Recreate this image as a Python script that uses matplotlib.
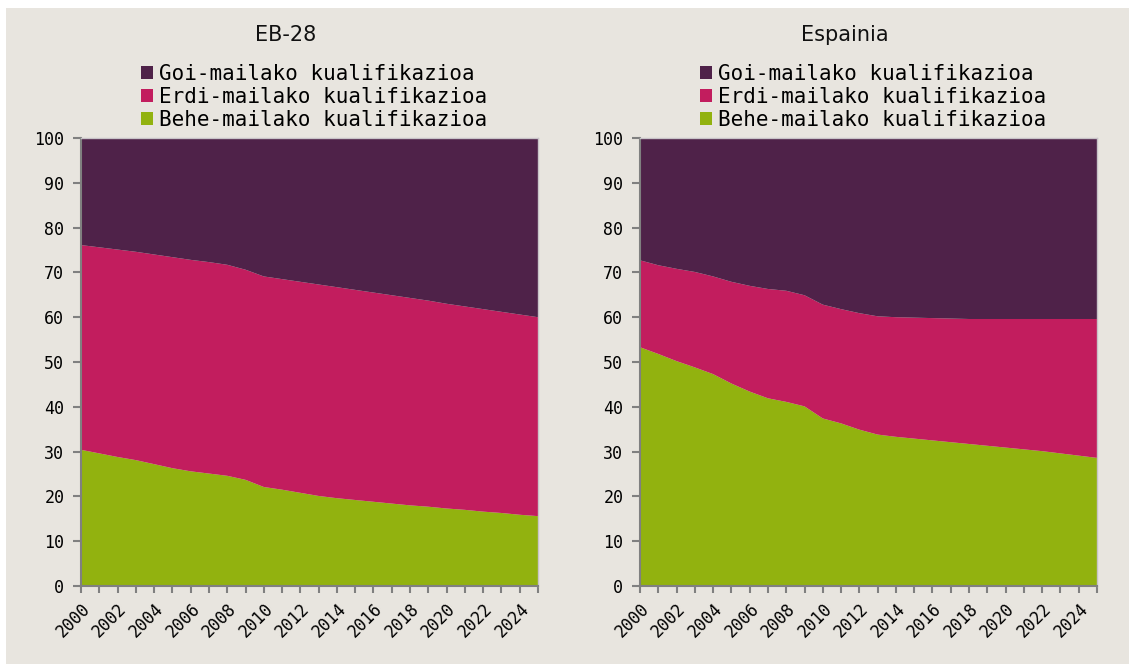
# Population by qualification level, EU-28 vs Spain (stacked area shares)

import numpy as np
import matplotlib.pyplot as plt
from matplotlib.patches import Rectangle

years = list(range(2000, 2026))

labels = ["Behe-mailako kualifikazioa", "Erdi-mailako kualifikazioa", "Goi-mailako kualifikazioa"]
colors = ["#92B20F", "#C21D5E", "#4F2249"]

# EB-28
eb_behe = [30.4, 29.6, 28.8, 28.1, 27.2, 26.3, 25.6, 25.1, 24.6, 23.7, 22.1, 21.5, 20.8,
           20.1, 19.6, 19.2, 18.8, 18.4, 18.0, 17.7, 17.3, 17.0, 16.6, 16.3, 15.9, 15.6]
eb_erdi = [45.7, 46.0, 46.3, 46.5, 46.8, 47.1, 47.2, 47.2, 47.1, 46.9, 47.0, 47.0, 47.1,
           47.2, 47.1, 46.9, 46.7, 46.5, 46.3, 46.0, 45.7, 45.4, 45.2, 44.9, 44.7, 44.4]

# Espainia
es_behe = [53.3, 51.8, 50.2, 48.8, 47.3, 45.2, 43.4, 41.9, 41.1, 40.1, 37.4, 36.3, 34.9,
           33.8, 33.3, 32.9, 32.5, 32.1, 31.7, 31.3, 30.9, 30.5, 30.1, 29.6, 29.1, 28.6]
es_erdi = [19.4, 19.8, 20.6, 21.3, 21.8, 22.7, 23.6, 24.4, 24.8, 24.8, 25.4, 25.5, 26.0,
           26.4, 26.7, 27.0, 27.3, 27.6, 27.9, 28.3, 28.7, 29.1, 29.5, 30.0, 30.5, 31.0]

panels = [("EB-28", eb_behe, eb_erdi), ("Espainia", es_behe, es_erdi)]

bg = "#E8E5DF"
mono = "DejaVu Sans Mono"

fig = plt.figure(figsize=(11.29, 6.64), dpi=100, facecolor="white")
fig.patches.append(Rectangle((6 / 1129, 0), 1, 1 - 8 / 664, transform=fig.transFigure,
                             facecolor=bg, edgecolor="none", zorder=-10))

lefts = [81 / 1129, 640 / 1129]
for left, (title, behe, erdi) in zip(lefts, panels):
    goi = 100 - np.array(behe) - np.array(erdi)
    ax = fig.add_axes([left, 78 / 664, 457 / 1129, 448 / 664])
    ax.set_facecolor(bg)
    ax.stackplot(years, behe, erdi, goi, colors=colors, labels=labels, linewidth=0)
    ax.set_xlim(2000, 2025)
    ax.set_ylim(0, 100)
    ax.set_yticks(range(0, 101, 10))
    ax.set_xticks(years)
    ax.set_xticklabels([str(y) if y % 2 == 0 else "" for y in years],
                       rotation=45, ha="right", rotation_mode="anchor",
                       fontfamily=mono, fontsize=12)
    for t in ax.get_yticklabels():
        t.set_fontfamily(mono)
        t.set_fontsize(12)
    ax.tick_params(axis="x", color="#808080", length=5, width=1.5, pad=5)
    ax.tick_params(axis="y", color="#808080", length=6, width=1.5, pad=6)
    for side in ["left", "bottom"]:
        ax.spines[side].set_color("#808080")
        ax.spines[side].set_linewidth(1.5)
    for side in ["top", "right"]:
        ax.spines[side].set_color("#C8C3C8")
        ax.spines[side].set_linewidth(1)

    fig.text(left + 205 / 1129, 1 - 35 / 664, title, ha="center", va="center",
             fontsize=15, color="#111111")
    handles, lbls = ax.get_legend_handles_labels()
    fig.legend(handles[::-1], lbls[::-1], loc="center",
               bbox_to_anchor=(left + 233 / 1129, 1 - 97 / 664),
               frameon=False, prop={"family": mono, "size": 15},
               handlelength=0.6, handleheight=0.6, handletextpad=0.3,
               labelspacing=0.15, borderpad=0)

fig.savefig("out.png", dpi=100, facecolor=fig.get_facecolor())
